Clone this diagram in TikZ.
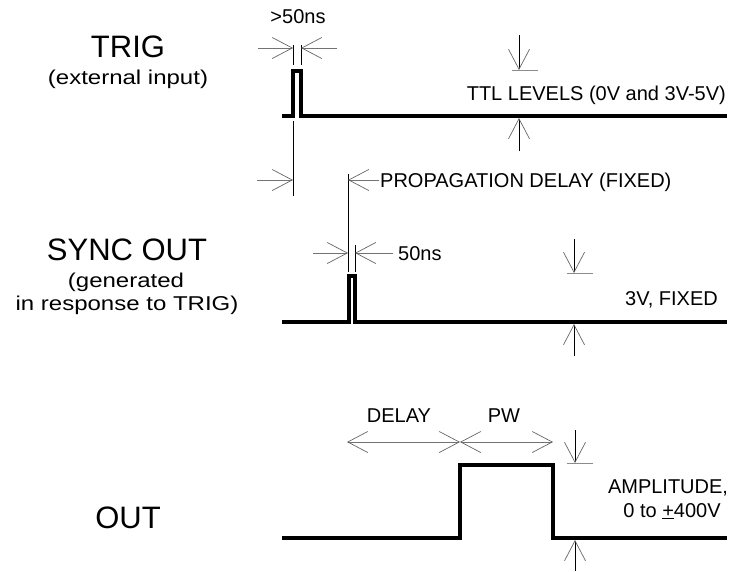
\documentclass[tikz,border=0pt]{standalone}
\usepackage{graphicx}
\usepackage{fontspec}
\setmainfont{Liberation Sans}
\usetikzlibrary{arrows.meta}

\newcommand{\widetext}[1]{\scalebox{1.2}[1]{#1}}

\tikzset{
	wave/.style={line width=3.2pt},
	barb/.tip={Straight Barb[length=20pt,width=21pt,line width=0.7pt,color=black!60]},
	dimline/.style={draw=black!55, line width=0.7pt, -barb},
	dimboth/.style={draw=black!55, line width=0.7pt, barb-barb},
	levelline/.style={line width=0.8pt, -barb},
	extline/.style={line width=0.7pt},
	tickline/.style={draw=black!45, line width=0.8pt},
	biglabel/.style={font=\fontsize{31}{34}\selectfont, anchor=base, inner sep=0pt},
	smalllabel/.style={font=\fontsize{20}{23}\selectfont, anchor=base, inner sep=0pt},
}

\begin{document}
\begin{tikzpicture}[x=1pt,y=-1pt]
	\useasboundingbox (0,0) rectangle (730,571);
	
	% signal names
	\node[biglabel] (trig) at (128,57) {TRIG};
	\node[smalllabel] (trigsub) at (128,84) {\widetext{(external input)}};
	\node[biglabel] (sync) at (127,260) {SYNC OUT};
	\node[smalllabel] (syncsub) at (126,287) {\widetext{(generated}};
	\node[smalllabel] (syncsubb) at (127,310) {\widetext{in response to TRIG)}};
	\node[biglabel] (out) at (128,528) {OUT};
	
	% waveforms
	\draw[wave] (282,116) -- (293,116) -- (293,71) -- (301,71) -- (301,116) -- (727,116);
	\draw[wave] (282,322) -- (349,322) -- (349,276) -- (355,276) -- (355,322) -- (727,322);
	\draw[wave] (282,538) -- (460,538) -- (460,465) -- (553,465) -- (553,538) -- (727,538);
	
	% TRIG width
	\draw[extline] (293,45) -- (293,65);
	\draw[extline] (301,45) -- (301,65);
	\draw[dimline] (258,48) -- (293,48);
	\draw[dimline] (337,48) -- (301,48);
	\node[smalllabel] (trigw) at (298,23) {>50ns};
	
	% TTL levels
	\draw[levelline] (519,35) -- (519,70);
	\draw[tickline] (512,70) -- (538,70);
	\draw[levelline] (519,151) -- (519,118);
	\node[smalllabel, anchor=base east] (ttl) at (726,100) {TTL LEVELS (0V and 3V-5V)};
	
	% propagation delay
	\draw[extline] (293,121) -- (293,196);
	\draw[dimline] (257,180) -- (293,180);
	\draw[extline] (348,174) -- (348,272);
	\draw[dimline] (379,180) -- (348,180);
	\node[smalllabel, anchor=base west] (prop) at (380,187) {PROPAGATION DELAY (FIXED)};
	
	% SYNC OUT width
	\draw[extline] (355,245) -- (355,272);
	\draw[dimline] (313,253) -- (348,253);
	\draw[dimline] (393,253) -- (355,253);
	\node[smalllabel, anchor=base west] (syncw) at (398,260) {50ns};
	
	% SYNC OUT level
	\draw[levelline] (574,239) -- (574,273);
	\draw[tickline] (567,273) -- (593,273);
	\draw[levelline] (574,356) -- (574,324);
	\node[smalllabel, anchor=base east] (synclvl) at (718,305) {3V, FIXED};
	
	% OUT delay and pulse width
	\draw[dimboth] (347,442) -- (460,442);
	\draw[dimboth] (460,442) -- (553,442);
	\node[smalllabel] (delay) at (399,422) {DELAY};
	\node[smalllabel] (pw) at (504,422) {PW};
	
	% OUT amplitude
	\draw[levelline] (575,430) -- (575,463);
	\draw[tickline] (567,463) -- (593,463);
	\draw[levelline] (575,571) -- (575,540);
	\node[smalllabel] (amp) at (668,493) {AMPLITUDE,};
	\node[smalllabel] (ampv) at (672,517) {0 to \underline{+}400V};
\end{tikzpicture}
\end{document}
